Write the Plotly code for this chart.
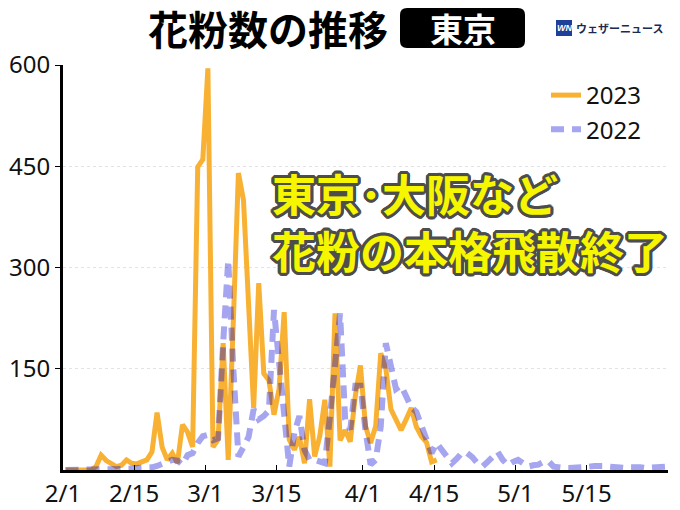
import plotly.graph_objects as go
import pandas as pd

# ---- data (daily pollen counts, Tokyo) ----
start_date = "2023-02-01"
pollen_2023 = [0, 0, 0, 0, 0, 0, 5, 22, 14, 9,
               5, 7, 15, 10, 9, 12, 15, 27, 85, 34,
               15, 25, 10, 67, 56, 34, 449, 460, 595, 34,
               45, 188, 15, 220, 440, 400, 245, 92, 277, 143,
               133, 82, 120, 234, 45, 30, 49, 10, 105, 20,
               50, 104, 5, 232, 44, 59, 42, 110, 155, 65,
               40, 65, 173, 150, 90, 75, 59, 75, 92, 64,
               50, 41, 12, 15]
pollen_2022 = [0, 0, 0, 0, 0, 0, 0, 0, 0, 0,
               0, 0, 1, 2, 3, 3, 3, 4, 6, 10,
               12, 15, 14, 8, 22, 25, 40, 50, 52, 44,
               47, 188, 311, 150, 20, 34, 49, 90, 75, 80,
               88, 237, 160, 60, 5, 55, 80, 30, 15, 15,
               12, 10, 79, 160, 232, 75, 60, 125, 125, 59,
               8, 15, 64, 188, 148, 120, 125, 110, 93, 86,
               66, 44, 25, 40, 30, 20, 10, 17, 26, 25,
               19, 10, 5, 12, 20, 27, 15, 7, 12, 15,
               10, 5, 7, 8, 12, 13, 5, 3, 3, 3,
               3, 3, 4, 5, 6, 7, 6, 5, 4, 3,
               3, 4, 5, 4, 3, 3, 3, 4, 5]
tick_dates = ["2023-02-01", "2023-02-15", "2023-03-01", "2023-03-15",
              "2023-04-01", "2023-04-15", "2023-05-01", "2023-05-15"]
tick_labels = ["2/1", "2/15", "3/1", "3/15", "4/1", "4/15", "5/1", "5/15"]
y_ticks = [150, 300, 450, 600]
y_labels = ["150", "300", "450", "600"]
series_names = ["2023", "2022"]
title_text = "花粉数の推移"
city_text = "東京"
headline = ["東京･大阪など", "花粉の本格飛散終了"]
brand_text = "ウェザーニュース"

# each daily value is centred in its day
x23 = pd.date_range(start_date, periods=len(pollen_2023), freq="D") + pd.Timedelta(hours=12)
x22 = pd.date_range(start_date, periods=len(pollen_2022), freq="D") + pd.Timedelta(hours=12)

W, H = 680, 510
L, R, T, B = 63, 12, 65, 40
pw, ph = W - L - R, H - T - B


def px(xp):
    return (xp - L) / pw


def py(yp):
    return (H - B - yp) / ph


fig = go.Figure()
fig.add_trace(go.Scatter(
    x=x23, y=pollen_2023, mode="lines", name=series_names[0],
    line=dict(color="#F8B133", width=5),
))
fig.add_trace(go.Scatter(
    x=x22, y=pollen_2022, mode="lines", name=series_names[1],
    line=dict(color="rgba(5,5,213,0.36)", width=6, dash="13px,8px"),
))

fig.update_layout(
    width=W, height=H,
    margin=dict(l=L, r=R, t=T, b=B, autoexpand=False),
    paper_bgcolor="white", plot_bgcolor="white",
    font=dict(family="Noto Sans, Noto Sans CJK JP", color="#111111"),
    showlegend=True,
    legend=dict(
        x=px(546), y=py(73), xanchor="left", yanchor="top",
        bgcolor="rgba(255,255,255,0)",
        font=dict(size=24, color="#111111"),
        tracegroupgap=0,
    ),
    xaxis=dict(
        type="date", automargin=False,
        range=["2023-02-01", "2023-05-31"],
        tickvals=pd.to_datetime(tick_dates), ticktext=tick_labels,
        showline=True, linecolor="black", linewidth=3,
        ticks="inside", ticklen=5, tickcolor="black", tickwidth=1,
        showgrid=False, zeroline=False,
        tickfont=dict(size=24, color="#111111"),
    ),
    yaxis=dict(
        range=[0, 600], automargin=False,
        tickvals=y_ticks, ticktext=y_labels,
        showline=True, linecolor="black", linewidth=3,
        ticks="outside", ticklen=5, tickcolor="black", tickwidth=1,
        showgrid=True, gridcolor="#e3e3e3", griddash="dot", gridwidth=1,
        zeroline=False,
        tickfont=dict(size=24, color="#111111"),
    ),
)

# title
fig.add_annotation(
    xref="paper", yref="paper", x=px(268), y=py(28),
    text=title_text, showarrow=False, xanchor="center", yanchor="middle",
    font=dict(family="Noto Sans CJK JP", size=40, color="black", weight="bold"),
)

# black rounded box with city
x0, x1, y0, y1, r = 400, 525, 8, 48, 7
path = (f"M {px(x0 + r)},{py(y0)} L {px(x1 - r)},{py(y0)} "
        f"Q {px(x1)},{py(y0)} {px(x1)},{py(y0 + r)} "
        f"L {px(x1)},{py(y1 - r)} Q {px(x1)},{py(y1)} {px(x1 - r)},{py(y1)} "
        f"L {px(x0 + r)},{py(y1)} Q {px(x0)},{py(y1)} {px(x0)},{py(y1 - r)} "
        f"L {px(x0)},{py(y0 + r)} Q {px(x0)},{py(y0)} {px(x0 + r)},{py(y0)} Z")
fig.add_shape(type="path", xref="paper", yref="paper", path=path,
              fillcolor="black", line=dict(width=0), layer="above")
fig.add_annotation(
    xref="paper", yref="paper", x=px((x0 + x1) / 2), y=py(28),
    text=city_text, showarrow=False, xanchor="center", yanchor="middle",
    font=dict(family="Noto Sans CJK JP", size=33, color="white", weight="bold"),
)

# brand logo
fig.add_shape(type="rect", xref="paper", yref="paper",
              x0=px(556), x1=px(572), y0=py(36), y1=py(20),
              fillcolor="#1f3f9a", line=dict(width=0), layer="above")
fig.add_annotation(
    xref="paper", yref="paper", x=px(564), y=py(28),
    text="<i>WN</i>", showarrow=False, xanchor="center", yanchor="middle",
    font=dict(family="Liberation Sans", size=9, color="white", weight="bold"),
)
fig.add_annotation(
    xref="paper", yref="paper", x=px(574), y=py(28),
    text=brand_text, showarrow=False, xanchor="left", yanchor="middle",
    font=dict(family="Noto Sans CJK JP", size=11, color="#1a2a50", weight="bold"),
)

# headline with outline
stroke = ", ".join(f"{dx}px {dy}px 0 #4d4d4d" for dx, dy in
                   [(3, 0), (-3, 0), (0, 3), (0, -3), (2, 2), (-2, -2), (2, -2), (-2, 2),
                    (3, 1), (-3, 1), (3, -1), (-3, -1), (1, 3), (-1, 3), (1, -3), (-1, -3)])
fig.add_annotation(
    xref="paper", yref="paper", x=px(270), y=py(221),
    text="<br>".join(headline), showarrow=False, xanchor="left", yanchor="middle",
    align="left",
    font=dict(family="Noto Sans CJK JP", size=44, color="#f6f600",
              weight="bold", shadow=stroke),
)

fig.write_html("out.html", config={"displayModeBar": False},
               post_script="document.body.style.margin='0';document.body.style.padding='0';")
